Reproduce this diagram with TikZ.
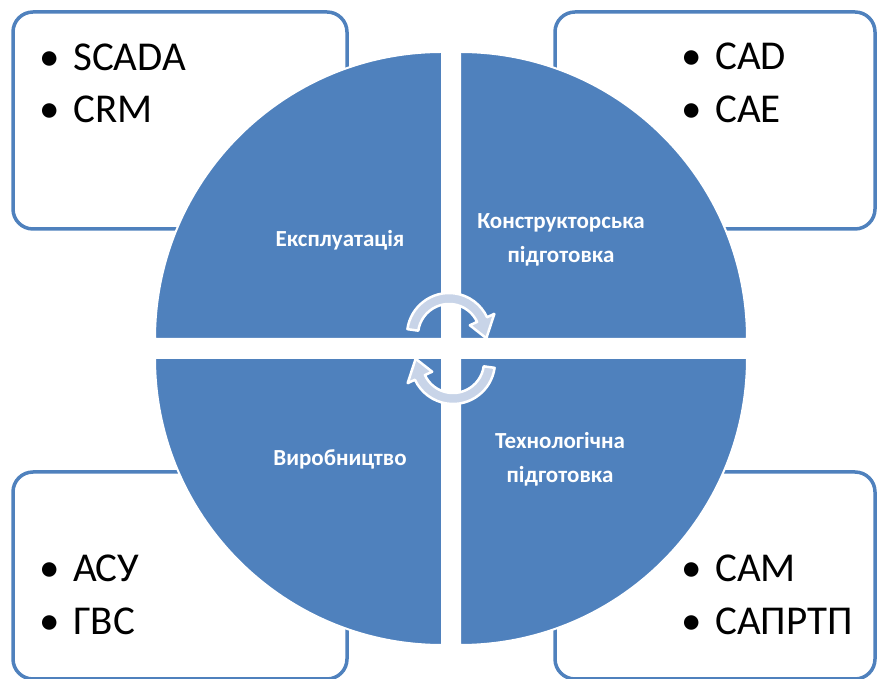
\documentclass[tikz,border=0pt]{standalone}
\usepackage{fontspec}
\setmainfont{Carlito}
\definecolor{accent}{RGB}{79,129,189}
\definecolor{arrowfill}{RGB}{200,212,232}
\begin{document}
\begin{tikzpicture}[x=1pt,y=1pt,
  panel/.style={draw=accent, line width=3.5pt, rounded corners=20pt, fill=white},
  quarter/.style={fill=accent, draw=white, line width=2pt},
  item/.style={anchor=base west, inner sep=0pt, font=\fontsize{41}{41}\selectfont},
  label/.style={anchor=base, text=white, inner sep=0pt, align=center,
                font=\bfseries\fontsize{23}{34}\selectfont},
  turn/.style={fill=arrowfill, draw=white, line width=2.5pt, line join=round},
  cycarrow/.pic={
    \path[turn] (172:42) arc[start angle=172, end angle=25, radius=42]
      -- (25:50) -- (-5:37.5) -- (25:23) -- (25:31)
      arc[start angle=25, end angle=172, radius=31] -- cycle;
  }]
\useasboundingbox (0,0) rectangle (878,679);
\clip (0,0) rectangle (878,679);

% corner panels with the tool lists
\draw[panel] (13,450) rectangle (347,667);
\draw[panel] (555,450) rectangle (875,667);
\draw[panel] (13,0) rectangle (347,207);
\draw[panel] (555,0) rectangle (875,207);

\newcommand{\bul}{\makebox[34pt][l]{•}}
\node[item] (scada)  at (39,608)  {\bul SCADA};
\node[item] (crm)    at (39,556)  {\bul CRM};
\node[item] (cad)    at (681,609) {\bul CAD};
\node[item] (cae)    at (681,556) {\bul CAE};
\node[item] (asu)    at (39,97)   {\bul АСУ};
\node[item] (gvs)    at (39,44)   {\bul ГВС};
\node[item] (cam)    at (681,97)  {\bul САМ};
\node[item] (saprtp) at (681,44)  {\bul САПРТП};

% four quarter discs of the life cycle
\path[quarter] (442,340) -- (155,340) arc[start angle=180, end angle=90, radius=287] -- cycle;
\path[quarter] (460,340) -- (460,627) arc[start angle=90, end angle=0, radius=287] -- cycle;
\path[quarter] (442,321) -- (155,321) arc[start angle=180, end angle=270, radius=287] -- cycle;
\path[quarter] (460,321) -- (747,321) arc[start angle=0, end angle=-90, radius=287] -- cycle;

% multi-line labels sit on the baseline of their last line
\node[label] (ops)    at (340,432) {Експлуатація};
\node[label] (design) at (561,416) {Конструкторська\\підготовка};
\node[label] (prod)   at (340,213) {Виробництво};
\node[label] (tech)   at (560,196) {Технологічна\\підготовка};

% circular arrows in the middle
\pic at (449,344) {cycarrow};
\pic[rotate=180] at (453,317) {cycarrow};
\end{tikzpicture}
\end{document}
